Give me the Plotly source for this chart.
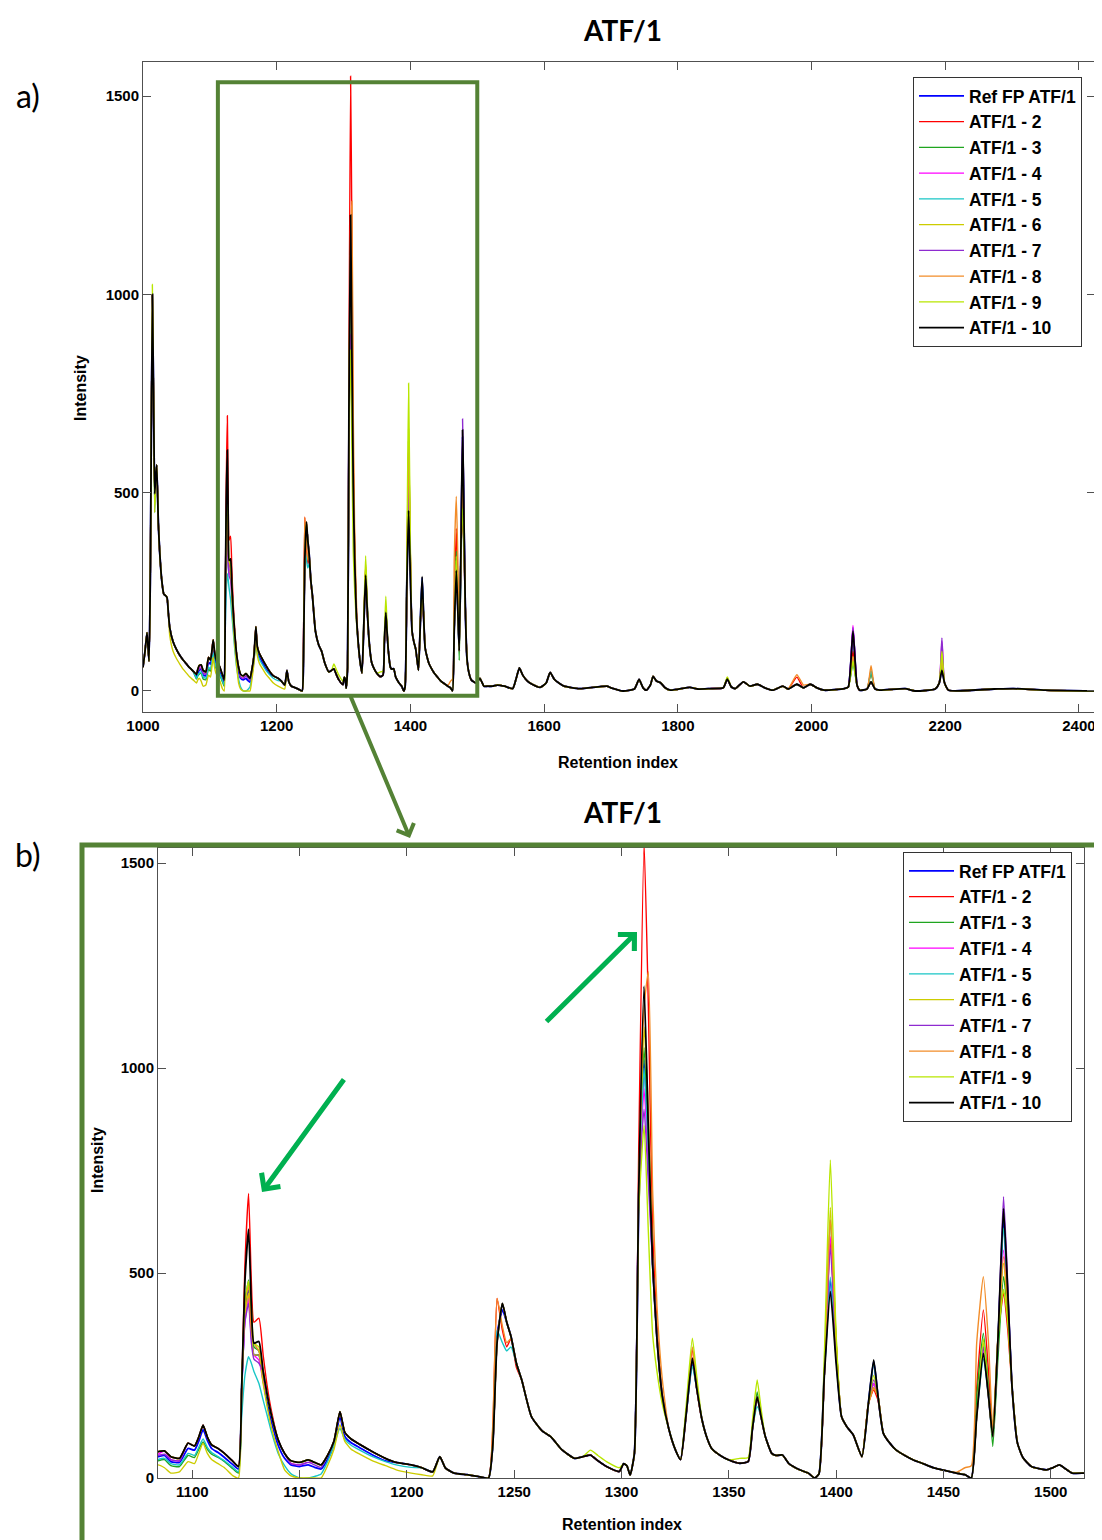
import plotly.graph_objects as go

# retention index grid shared by all traces
ri = [1000, 1003, 1006, 1009, 1011, 1014, 1016, 1017.5, 1019, 1020.5,
      1023, 1025, 1028, 1031, 1034, 1036, 1038, 1040, 1045, 1050,
      1055, 1060, 1065, 1070, 1075, 1080, 1082, 1084, 1087, 1090,
      1094, 1098, 1101, 1103, 1105, 1107, 1109, 1112, 1115, 1119,
      1121.5, 1123, 1124.5, 1126.2, 1127.5, 1128.7, 1131, 1133, 1135, 1137,
      1140, 1143, 1146, 1150, 1154, 1157, 1160, 1163, 1166, 1168.8,
      1171, 1174, 1178, 1184, 1190, 1195, 1202, 1207, 1212, 1215.3,
      1218, 1222, 1228, 1233, 1238, 1240, 1242, 1244.5, 1246.5, 1248.5,
      1251, 1253.5, 1258, 1263, 1267, 1272, 1278, 1282, 1285.5, 1289,
      1293, 1299, 1301, 1302.5, 1304, 1306, 1308, 1310.5, 1312.5, 1314.5,
      1316.5, 1319, 1322, 1325, 1327.5, 1330, 1333, 1335, 1337.5, 1340,
      1342, 1346, 1350, 1355, 1359, 1361, 1363.2, 1365, 1367, 1370,
      1372, 1375, 1378, 1383, 1387, 1390, 1392, 1394.5, 1397.3, 1400,
      1402.5, 1405, 1408, 1412, 1415, 1417.5, 1419.5, 1422, 1425, 1428,
      1432, 1436, 1441, 1446, 1451, 1456, 1460, 1463, 1465.5, 1468.6,
      1471, 1473, 1475.5, 1478, 1480, 1482, 1484.5, 1487, 1491, 1498,
      1501, 1504, 1507, 1510, 1516, 1523, 1530, 1541, 1553, 1558,
      1563, 1568, 1575, 1582, 1594, 1603, 1609, 1615, 1622, 1630,
      1653, 1694, 1700, 1718, 1735, 1742, 1748, 1753, 1759, 1763,
      1768, 1774, 1781, 1789, 1818, 1830, 1848, 1868, 1874, 1880,
      1886, 1898, 1908, 1919, 1930, 1942, 1957, 1965, 1978, 1988,
      1998, 2008, 2019, 2049, 2055, 2062, 2068, 2072, 2083, 2089,
      2095, 2102, 2140, 2155, 2185, 2191, 2195, 2199, 2205, 2273,
      2302, 2350, 2424]

# ATF/1 - 10 (black), full profile
atf_10 = [60, 100, 147, 75, 300, 1000, 700, 497, 540, 570,
          420, 350, 280, 245, 240, 235, 195, 160, 124, 105,
          90, 78, 68, 58, 50, 42, 55, 64, 66, 52,
          48, 85, 78, 100, 129, 100, 81, 72, 60, 40,
          28, 220, 480, 607, 420, 329, 333, 260, 200, 150,
          93, 60, 42, 38, 44, 38, 32, 55, 90, 162,
          112, 95, 82, 64, 48, 38, 32, 25, 15, 52,
          24, 12, 8, 4, 0, 80, 330, 426, 380, 345,
          280, 239, 150, 115, 101, 70, 48, 52, 56, 42,
          28, 16, 35, 30, 7, 60, 700, 1200, 850, 520,
          340, 200, 120, 70, 45, 150, 292, 220, 142, 95,
          72, 55, 44, 36, 40, 120, 198, 150, 101, 60,
          55, 56, 35, 20, 12, 0, 10, 250, 455, 280,
          150, 125, 105, 52, 180, 288, 200, 109, 85, 68,
          55, 44, 34, 24, 18, 12, 8, 0, 150, 304,
          200, 101, 350, 658, 450, 220, 85, 50, 28, 20,
          25, 32, 22, 12, 12, 12, 15, 12, 6, 30,
          58, 40, 25, 17, 9, 20, 47, 30, 20, 12,
          6, 12, 8, 0, 5, 29, 8, 2, 15, 37,
          25, 21, 8, 2, 9, 5, 6, 8, 30, 10,
          6, 23, 12, 17, 8, 2, 12, 5, 17, 8,
          17, 8, 2, 6, 10, 151, 15, 2, 5, 23,
          5, 2, 6, 0, 5, 20, 52, 20, 2, 5,
          6, 2, 0]

# the other runs: values read where they leave the black trace
ref_fp = {1080: 36, 1082: 45, 1084: 52, 1087: 55, 1090: 40, 1094: 38, 1098: 72, 1101: 68,
          1103: 90, 1105: 118, 1107: 92, 1109: 72, 1112: 62, 1115: 50, 1119: 32, 1121.5: 22,
          1124.5: 400, 1126.2: 470, 1127.5: 360, 1128.7: 300, 1131: 300, 1133: 240, 1135: 180,
          1137: 135, 1140: 80, 1143: 48, 1146: 32, 1150: 28, 1154: 32, 1157: 26, 1160: 22,
          1163: 45, 1166: 82, 1168.8: 150, 1171: 102, 1174: 86, 1178: 74, 1184: 56, 1190: 42,
          1242: 350, 1244.5: 410, 1308: 650, 1310.5: 1020, 1312.5: 800, 1333: 285,
          1394.5: 260, 1397.3: 483, 1400: 300, 1417.5: 285, 1465.5: 160, 1468.6: 320,
          1475.5: 340, 1478: 640, 1480: 440, 2062: 155, 2195: 60}
atf_2 = {1124.5: 520, 1126.2: 694, 1127.5: 480, 1128.7: 380, 1131: 390, 1133: 300, 1135: 220,
         1137: 160, 1240: 120, 1242: 438, 1244.5: 360, 1246.5: 320, 1248.5: 340, 1251: 270,
         1308: 800, 1310.5: 1550, 1312.5: 1150, 1314.5: 600, 1316.5: 370, 1333: 315,
         1397.3: 575, 1400: 330, 1417.5: 215, 1419.5: 190, 1465.5: 220, 1468.6: 410,
         1471: 260, 1478: 450, 1480: 360, 1978: 35, 2062: 100, 2089: 50, 2195: 70}
atf_3 = {1080: 30, 1082: 38, 1084: 42, 1087: 45, 1090: 30, 1094: 28, 1098: 55, 1101: 50,
         1103: 70, 1105: 88, 1107: 70, 1109: 58, 1112: 50, 1115: 40, 1119: 22, 1121.5: 12,
         1124.5: 420, 1126.2: 483, 1127.5: 380, 1128.7: 320, 1131: 310, 1310.5: 1050,
         1312.5: 820, 1363.2: 210, 1397.3: 630, 1400: 330, 1417.5: 230, 1465.5: 200,
         1468.6: 353, 1471: 220, 1473: 77, 1475.5: 300, 1478: 491, 1480: 400,
         2062: 70, 2089: 45, 2195: 75}
atf_4 = {1084: 58, 1090: 45, 1094: 42, 1124.5: 380, 1126.2: 440, 1127.5: 340, 1128.7: 300,
         1131: 288, 1133: 235, 1146: 36, 1150: 32, 1154: 38, 1310.5: 950, 1312.5: 760,
         1397.3: 589, 1400: 320, 1417.5: 230, 1468.6: 310, 1478: 556, 1480: 420,
         2062: 165, 2195: 125}
atf_5 = {1017.5: 450, 1080: 32, 1082: 40, 1084: 45, 1087: 48, 1090: 35, 1094: 32, 1098: 60,
         1101: 55, 1103: 75, 1105: 95, 1107: 75, 1109: 62, 1112: 52, 1115: 42, 1119: 25,
         1121.5: 15, 1123: 150, 1124.5: 250, 1126.2: 296, 1127.5: 280, 1128.7: 260, 1131: 231,
         1133: 190, 1135: 150, 1137: 110, 1140: 60, 1143: 30, 1146: 10, 1150: 0, 1154: 0,
         1157: 4, 1160: 10, 1163: 40, 1166: 80, 1168.8: 121, 1171: 95, 1174: 80, 1178: 68,
         1184: 52, 1190: 40, 1195: 32, 1202: 26, 1242: 360, 1244.5: 330, 1246.5: 310,
         1248.5: 320, 1310.5: 1000, 1312.5: 800, 1333: 272, 1363.2: 174, 1397.3: 490,
         1400: 300, 1417.5: 280, 1468.6: 290, 1478: 610, 2062: 80, 2089: 52, 2195: 80}
atf_6 = {1017.5: 450, 1040: 140, 1045: 100, 1050: 82, 1055: 68, 1060: 55, 1065: 45, 1070: 35,
         1075: 28, 1080: 20, 1082: 28, 1084: 32, 1087: 25, 1090: 12, 1094: 15, 1098: 40,
         1101: 35, 1103: 60, 1105: 85, 1107: 60, 1109: 45, 1112: 35, 1115: 25, 1119: 5,
         1121.5: 0, 1124.5: 400, 1126.2: 450, 1127.5: 360, 1128.7: 300, 1131: 300, 1133: 230,
         1135: 170, 1137: 120, 1140: 65, 1143: 20, 1146: 5, 1150: 0, 1154: 0, 1157: 0,
         1160: 0, 1163: 30, 1166: 70, 1168.8: 130, 1171: 90, 1174: 70, 1178: 58, 1184: 42,
         1190: 30, 1195: 20, 1202: 12, 1207: 8, 1212: 5, 1310.5: 1100, 1312.5: 900,
         1397.3: 660, 1400: 340, 1417.5: 220, 1468.6: 330, 1478: 524, 1480: 400,
         1874: 35, 2062: 85, 2195: 93}
atf_7 = {1084: 55, 1087: 58, 1090: 45, 1094: 42, 1124.5: 380, 1126.2: 426, 1127.5: 330,
         1128.7: 290, 1131: 280, 1146: 35, 1150: 32, 1154: 38, 1157: 32, 1160: 26,
         1310.5: 900, 1312.5: 720, 1397.3: 560, 1400: 310, 1417.5: 239, 1468.6: 320,
         1478: 686, 1480: 470, 2062: 160, 2195: 134}
atf_8 = {1124.5: 420, 1126.2: 470, 1127.5: 360, 1131: 310, 1240: 130, 1242: 438, 1244.5: 370,
         1246.5: 330, 1248.5: 340, 1310.5: 1150, 1312.5: 1235, 1314.5: 700, 1316.5: 420,
         1319: 240, 1333: 320, 1397.3: 629, 1400: 330, 1417.5: 220, 1456: 14, 1460: 25,
         1463: 30, 1465.5: 330, 1468.6: 491, 1471: 330, 1473: 120, 1478: 540, 1480: 420,
         1978: 41, 1988: 15, 2062: 87, 2089: 64, 2195: 80}
atf_9 = {1014: 1025, 1017.5: 470, 1124.5: 430, 1126.2: 480, 1131: 320, 1285.5: 68, 1289: 55,
         1293: 40, 1299: 25, 1308: 650, 1310.5: 860, 1312.5: 600, 1314.5: 350, 1316.5: 260,
         1319: 180, 1330: 170, 1333: 341, 1335: 250, 1355: 48, 1359: 50, 1361: 140,
         1363.2: 239, 1365: 170, 1394.5: 300, 1397.3: 776, 1400: 350, 1417.5: 250,
         1468.6: 340, 1478: 460, 1480: 380, 1874: 35, 2062: 75, 2195: 100}

names = ['Ref FP ATF/1', 'ATF/1 - 2', 'ATF/1 - 3', 'ATF/1 - 4', 'ATF/1 - 5',
         'ATF/1 - 6', 'ATF/1 - 7', 'ATF/1 - 8', 'ATF/1 - 9', 'ATF/1 - 10']
runs = [ref_fp, atf_2, atf_3, atf_4, atf_5, atf_6, atf_7, atf_8, atf_9, {}]
colors = ['#0000ff', '#ff0000', '#1fa51f', '#ff00ff', '#19c6c6',
          '#cccc00', '#8e2bd0', '#f28c28', '#b8e600', '#000000']

for r in runs:
    for k in r:
        assert k in ri, k

tick_font = dict(family='Liberation Sans', size=15, color='black', weight='bold')
label_font = dict(family='Liberation Sans', size=16, color='black', weight='bold')

# the page body has an 8px margin, so place everything relative to that
OFF = 8
W, H = 1102 - OFF, 1540 - OFF
def px(x):
    return (x - OFF) / W
def py(y):
    return 1 - (y - OFF) / H

fig = go.Figure()
for i, (name, run) in enumerate(zip(names, runs)):
    y = [run.get(x, b) for x, b in zip(ri, atf_10)]
    lw = 1.8 if i in (0, 9) else 1.4
    # a) full chromatogram
    fig.add_trace(go.Scatter(x=ri, y=y, mode='lines', name=name, legendgroup=name,
                             line=dict(color=colors[i], width=lw, shape='spline', smoothing=0.5),
                             xaxis='x', yaxis='y', legend='legend'))
    # b) zoom on the boxed part
    fig.add_trace(go.Scatter(x=ri, y=y, mode='lines', name=name, legendgroup=name + ' b',
                             line=dict(color=colors[i], width=lw, shape='spline', smoothing=0.5),
                             xaxis='x2', yaxis='y2', legend='legend2'))

axis_style = dict(showline=True, linecolor='#505050', linewidth=1, mirror='ticks',
                  ticks='inside', ticklen=8, tickcolor='#505050', showgrid=False,
                  zeroline=False, tickfont=tick_font, automargin=False)

legend_style = dict(font=dict(family='Liberation Sans', size=17.5, color='black', weight='bold'),
                    bgcolor='white', bordercolor='#333333', borderwidth=1,
                    itemwidth=45, tracegroupgap=0, xanchor='right', yanchor='top')

fig.update_layout(
    width=W, height=H,
    margin=dict(l=0, r=0, t=0, b=0),
    paper_bgcolor='white', plot_bgcolor='white',
    xaxis=dict(domain=[px(143), px(1095)], range=[1000, 2424], tickvals=list(range(1000, 2401, 200)), anchor='y', **axis_style),
    yaxis=dict(domain=[py(712), py(62)], range=[-53, 1586], tickvals=[0, 500, 1000, 1500], anchor='x', **axis_style),
    xaxis2=dict(domain=[px(158), px(1084)], range=[1084, 1515.5], tickvals=list(range(1100, 1501, 50)), anchor='y2', **axis_style),
    yaxis2=dict(domain=[py(1478), py(848)], range=[0, 1537], tickvals=[0, 500, 1000, 1500], anchor='x2', **axis_style),
    legend=dict(x=px(1082), y=py(77), **legend_style),
    legend2=dict(x=px(1072), y=py(852), **legend_style),
)

# green box marking the zoomed region in a)
fig.add_shape(type='rect', xref='x', yref='y', x0=1112, x1=1500, y0=-12, y1=1535,
              line=dict(color='#548235', width=4))
# green frame round b)
fig.add_shape(type='rect', xref='paper', yref='paper', x0=px(82), x1=px(1099),
              y0=-0.02, y1=py(845), line=dict(color='#548235', width=5))

def arrow(hx, hy, tx, ty, color, width):
    # head and tail in pixels from the top left corner
    fig.add_annotation(x=px(hx), y=py(hy), xref='paper', yref='paper', text='',
                       showarrow=True, ax=tx - hx, ay=ty - hy, arrowhead=4, arrowsize=0.9,
                       arrowwidth=width, arrowcolor=color, standoff=0)

arrow(410, 838, 350, 695, '#548235', 4)
arrow(262, 1192, 345, 1078, '#00b050', 5)
arrow(637, 932, 545, 1023, '#00b050', 5)

def text(s, x, y, font, angle=0):
    fig.add_annotation(x=px(x), y=py(y), xref='paper', yref='paper', text=s,
                       showarrow=False, font=font, textangle=angle,
                       xanchor='center', yanchor='middle')

title_font = dict(family='Lato', size=28, color='black', weight='bold')
panel_font = dict(family='Lato', size=32, color='black')
text('ATF/1', 622, 30, title_font)
text('ATF/1', 622, 812, title_font)
text('a)', 28, 95, panel_font)
text('b)', 28, 855, panel_font)
text('Intensity', 80, 388, label_font, -90)
text('Retention index', 618, 762, label_font)
text('Intensity', 97, 1160, label_font, -90)
text('Retention index', 622, 1524, label_font)

fig.write_html("out.html")
